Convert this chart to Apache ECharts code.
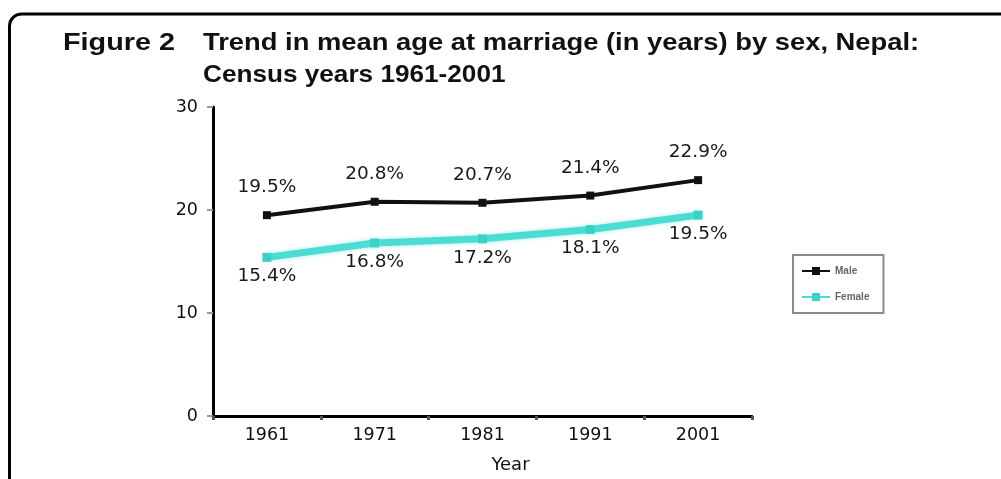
<!DOCTYPE html>
<html>
<head>
<meta charset="utf-8">
<script src="https://cdn.jsdelivr.net/npm/echarts@6/dist/echarts.min.js"></script>
<style>
  html, body { margin: 0; padding: 0; background: #fff; }
  #chart { width: 1001px; height: 479px; }
</style>
</head>
<body>
<div id="chart"></div>
<script>
// Census years and mean age at marriage by sex
const years = ['1961', '1971', '1981', '1991', '2001'];
const maleAge = [19.5, 20.8, 20.7, 21.4, 22.9];
const femaleAge = [15.4, 16.8, 17.2, 18.1, 19.5];
const seriesNames = ['Male', 'Female'];
const yTicks = { min: 0, max: 30, interval: 10 };

const TITLE_FONT = '"Liberation Sans", Arial, sans-serif';
const NUM_FONT = '"DejaVu Sans", "Liberation Sans", sans-serif';

const chart = echarts.init(document.getElementById('chart'), null, { renderer: 'canvas' });

// Bold heading line, stretched horizontally from its left edge
function headingLine(text, x, y, sx) {
  return {
    type: 'text', x: x, y: y, scaleX: sx, scaleY: 1,
    style: {
      text: text, x: 0, y: 0,
      font: 'bold 24px ' + TITLE_FONT, fill: '#111',
      align: 'left', verticalAlign: 'middle'
    },
    silent: true
  };
}

chart.setOption({
  backgroundColor: '#ffffff',
  animation: false,
  graphic: [
    {
      type: 'rect',
      shape: { x: 9.5, y: 14, width: 1100, height: 600, r: 12 },
      style: { fill: 'none', stroke: '#000', lineWidth: 3 },
      silent: true
    },
    headingLine('Figure 2', 63, 43, 1.2),
    headingLine('Trend in mean age at marriage (in years) by sex, Nepal:', 203, 43, 1.14),
    headingLine('Census years 1961-2001', 203, 75, 1.09)
  ],
  legend: {
    orient: 'vertical',
    left: 793, top: 255,
    width: 99, height: 65,
    padding: [11, 14, 11, 8],
    itemGap: 16,
    itemWidth: 28, itemHeight: 10,
    borderColor: '#8a8a8a', borderWidth: 2,
    textStyle: { fontFamily: TITLE_FONT, fontSize: 10, fontWeight: 'bold', color: '#666' },
    data: seriesNames
  },
  grid: { left: 213, right: 249, top: 107, bottom: 58, containLabel: false },
  xAxis: {
    type: 'category',
    data: years,
    boundaryGap: true,
    name: 'Year',
    nameLocation: 'middle',
    nameGap: 40,
    nameTextStyle: { fontFamily: NUM_FONT, fontSize: 18, color: '#111', padding: [0, 0, 0, 56] },
    axisLine: { lineStyle: { color: '#000', width: 3 } },
    axisTick: { show: true, length: 4, inside: false, lineStyle: { color: '#555', width: 3 } },
    axisLabel: { fontFamily: NUM_FONT, fontSize: 17.5, color: '#111', margin: 10 }
  },
  yAxis: {
    type: 'value',
    min: yTicks.min, max: yTicks.max, interval: yTicks.interval,
    axisLine: { show: true, lineStyle: { color: '#000', width: 3 } },
    axisTick: { show: true, length: 6, lineStyle: { color: '#999', width: 2 } },
    axisLabel: { fontFamily: NUM_FONT, fontSize: 17.5, color: '#111', margin: 15 },
    splitLine: { show: false }
  },
  series: [
    {
      name: seriesNames[0],
      type: 'line',
      data: maleAge,
      symbol: 'rect',
      symbolSize: 8,
      color: '#111',
      lineStyle: { color: '#111', width: 4 },
      itemStyle: { color: '#111' },
      label: {
        show: true, position: 'top', distance: 14,
        formatter: p => p.value.toFixed(1) + '%',
        fontFamily: NUM_FONT, fontSize: 18.5, color: '#1a1a1a'
      },
      z: 3
    },
    {
      name: seriesNames[1],
      type: 'line',
      data: femaleAge,
      symbol: 'rect',
      symbolSize: 9,
      color: '#3fd9d0',
      lineStyle: { color: '#4ddcd4', width: 7, shadowColor: 'rgba(64,224,208,0.5)', shadowBlur: 4 },
      itemStyle: { color: '#38d2c8' },
      label: {
        show: true, position: 'bottom', distance: 5,
        formatter: p => p.value.toFixed(1) + '%',
        fontFamily: NUM_FONT, fontSize: 18.5, color: '#1a1a1a'
      },
      z: 2
    }
  ]
});
</script>
</body>
</html>
